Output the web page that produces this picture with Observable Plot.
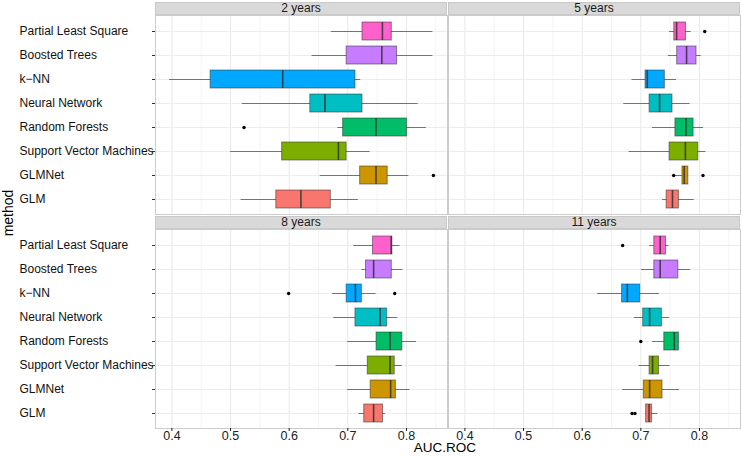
<!DOCTYPE html>
<html><head><meta charset="utf-8">
<script src="https://cdn.jsdelivr.net/npm/d3@7"></script>
<script src="https://cdn.jsdelivr.net/npm/@observablehq/plot@0.6"></script>
<style>
body{margin:0;background:#fff;}
#chart{position:relative;width:742px;height:456px;font-family:"Liberation Sans",Arial,sans-serif;overflow:hidden;background:#fff}
.strip{position:absolute;background:#d9d9d9;border:1px solid #c9c9c9;box-sizing:border-box;font-size:12px;text-align:center;line-height:11px;color:#1a1a1a}
.panel{position:absolute}
.lab{position:absolute;font-size:14px;line-height:12px;color:#000;white-space:nowrap}
</style></head><body><div id="chart"></div>
<script>
// categories, top to bottom
const methods = ["Partial Least Square","Boosted Trees","k\u2212NN","Neural Network","Random Forests","Support Vector Machines","GLMNet","GLM"];
const methodColors = ["#FF61CC","#C77CFF","#00A9FF","#00BFC4","#00BE67","#7CAE00","#CD9600","#F8766D"];
const periods = ["2 years","5 years","8 years","11 years"];
const xTicks = [0.4,0.5,0.6,0.7,0.8];
const xMinor = [0.45,0.55,0.65,0.75,0.85];

// per method: [lower whisker, Q1, median, Q3, upper whisker]
const years2 = [
  [0.672,0.725,0.759,0.775,0.845],
  [0.639,0.698,0.758,0.784,0.845],
  [0.396,0.466,0.589,0.713,0.722],
  [0.520,0.636,0.661,0.725,0.820],
  [0.683,0.692,0.748,0.801,0.834],
  [0.500,0.588,0.684,0.698,0.738],
  [0.653,0.721,0.748,0.768,0.804],
  [0.518,0.578,0.620,0.671,0.718]
];
const years5 = [
  [0.749,0.757,0.761,0.777,0.786],
  [0.747,0.762,0.778,0.795,0.803],
  [0.685,0.708,0.711,0.741,0.761],
  [0.671,0.715,0.732,0.754,0.784],
  [0.720,0.759,0.777,0.790,0.807],
  [0.680,0.749,0.776,0.798,0.811],
  [0.757,0.771,0.774,0.781,0.781],
  [0.737,0.744,0.754,0.765,0.791]
];
const years8 = [
  [0.710,0.743,0.774,0.776,0.789],
  [0.724,0.731,0.744,0.775,0.794],
  [0.674,0.698,0.713,0.724,0.748],
  [0.676,0.713,0.755,0.767,0.785],
  [0.700,0.749,0.772,0.793,0.817],
  [0.680,0.734,0.772,0.780,0.793],
  [0.700,0.739,0.773,0.782,0.806],
  [0.719,0.728,0.744,0.760,0.764]
];
const years11 = [
  [0.715,0.723,0.733,0.743,0.748],
  [0.701,0.723,0.733,0.764,0.785],
  [0.626,0.668,0.677,0.699,0.732],
  [0.689,0.704,0.715,0.736,0.749],
  [0.720,0.740,0.757,0.765,0.766],
  [0.697,0.715,0.720,0.731,0.750],
  [0.669,0.705,0.715,0.737,0.766],
  [0.709,0.709,0.714,0.719,0.729]
];
// outliers: [method, value]
const outliers2 = [["Random Forests",0.523],["GLMNet",0.846]];
const outliers5 = [["Partial Least Square",0.809],["GLMNet",0.756],["GLMNet",0.806]];
const outliers8 = [["k\u2212NN",0.599],["k\u2212NN",0.780]];
const outliers11 = [["Partial Least Square",0.669],["Random Forests",0.700],["GLM",0.685],["GLM",0.690]];

const chart = document.getElementById("chart");
const FONT = '"Liberation Sans",Arial,sans-serif';

function panel(period, stats, outs, left, top, showY, showX) {
  const rows = methods.map((m,i)=>({method:m, lo:stats[i][0], q1:stats[i][1], med:stats[i][2], q3:stats[i][3], hi:stats[i][4]}));
  const pts = outs.map(([m,v])=>({method:m, value:v}));
  const ml = showY ? 155 : 0;
  const mb = showX ? 20 : 0;
  const pw = 292;
  const ph = 199;
  const p = Plot.plot({
    width: ml + pw, height: ph + mb,
    marginLeft: ml, marginRight: 0, marginTop: 0, marginBottom: mb,
    style: {fontFamily: FONT, fontSize: "12px", color: "#1a1a1a", background: "white", overflow: "visible"},
    x: {domain: [0.372, 0.870], label: null, axis: null},
    y: {type: "band", domain: methods, paddingInner: 0.25, paddingOuter: 0.225, label: null, axis: null},
    color: {domain: methods, range: methodColors},
    marks: [
      Plot.gridX(xMinor, {stroke: "#f4f4f4", strokeOpacity: 1}),
      Plot.gridX(xTicks, {stroke: "#e8e8e8", strokeOpacity: 1}),
      Plot.gridY(methods, {stroke: "#ececec", strokeOpacity: 1}),
      Plot.ruleY(rows, {y: "method", x1: "lo", x2: "hi", stroke: "#333", strokeOpacity: 0.65, strokeWidth: 1}),
      Plot.barX(rows, {y: "method", x1: "q1", x2: "q3", fill: "method", stroke: "#333", strokeOpacity: 0.55, strokeWidth: 1}),
      Plot.tickX(rows, {y: "method", x: "med", stroke: "#333", strokeOpacity: 0.85, strokeWidth: 1.6}),
      Plot.dot(pts, {x: "value", y: "method", r: 1.7, fill: "#000", stroke: null}),
      Plot.frame({stroke: "#cccccc", strokeOpacity: 1}),
      showY ? Plot.axisY({tickSize: 3, tickFormat: () => "", label: null, stroke: "#333"}) : null,
      showY ? Plot.text(methods, {y: d => d, text: d => d, frameAnchor: "left", dx: -136, textAnchor: "start", fill: "#111", fontSize: 12}) : null,
      showX ? Plot.axisX(xTicks, {tickSize: 3, tickPadding: 0, tickFormat: d3.format(".1f"), label: null, fill: "#222", fontSize: 12.5}) : null
    ]
  });
  p.classList.add("panel");
  p.style.left = (left - ml) + "px";
  p.style.top = top + "px";
  chart.appendChild(p);
  const s = document.createElement("div");
  s.className = "strip";
  s.textContent = period;
  s.style.left = left + "px";
  s.style.top = (top - 13) + "px";
  s.style.width = pw + "px";
  s.style.height = "13px";
  chart.appendChild(s);
}

panel(periods[0], years2, outliers2, 155, 15, true, false);
panel(periods[1], years5, outliers5, 448, 15, false, false);
panel(periods[2], years8, outliers8, 155, 229, true, true);
panel(periods[3], years11, outliers11, 448, 229, false, true);

const yl = document.createElement("div");
yl.className = "lab";
yl.textContent = "method";
yl.style.left = "8px"; yl.style.top = "213px";
yl.style.transform = "translate(-50%,-50%) rotate(-90deg)";
chart.appendChild(yl);

const xl = document.createElement("div");
xl.className = "lab";
xl.textContent = "AUC.ROC";
xl.style.left = "445px"; xl.style.top = "447.5px";
xl.style.fontSize = "13.5px";
xl.style.transform = "translate(-50%,-50%)";
chart.appendChild(xl);
</script>
</body></html>
